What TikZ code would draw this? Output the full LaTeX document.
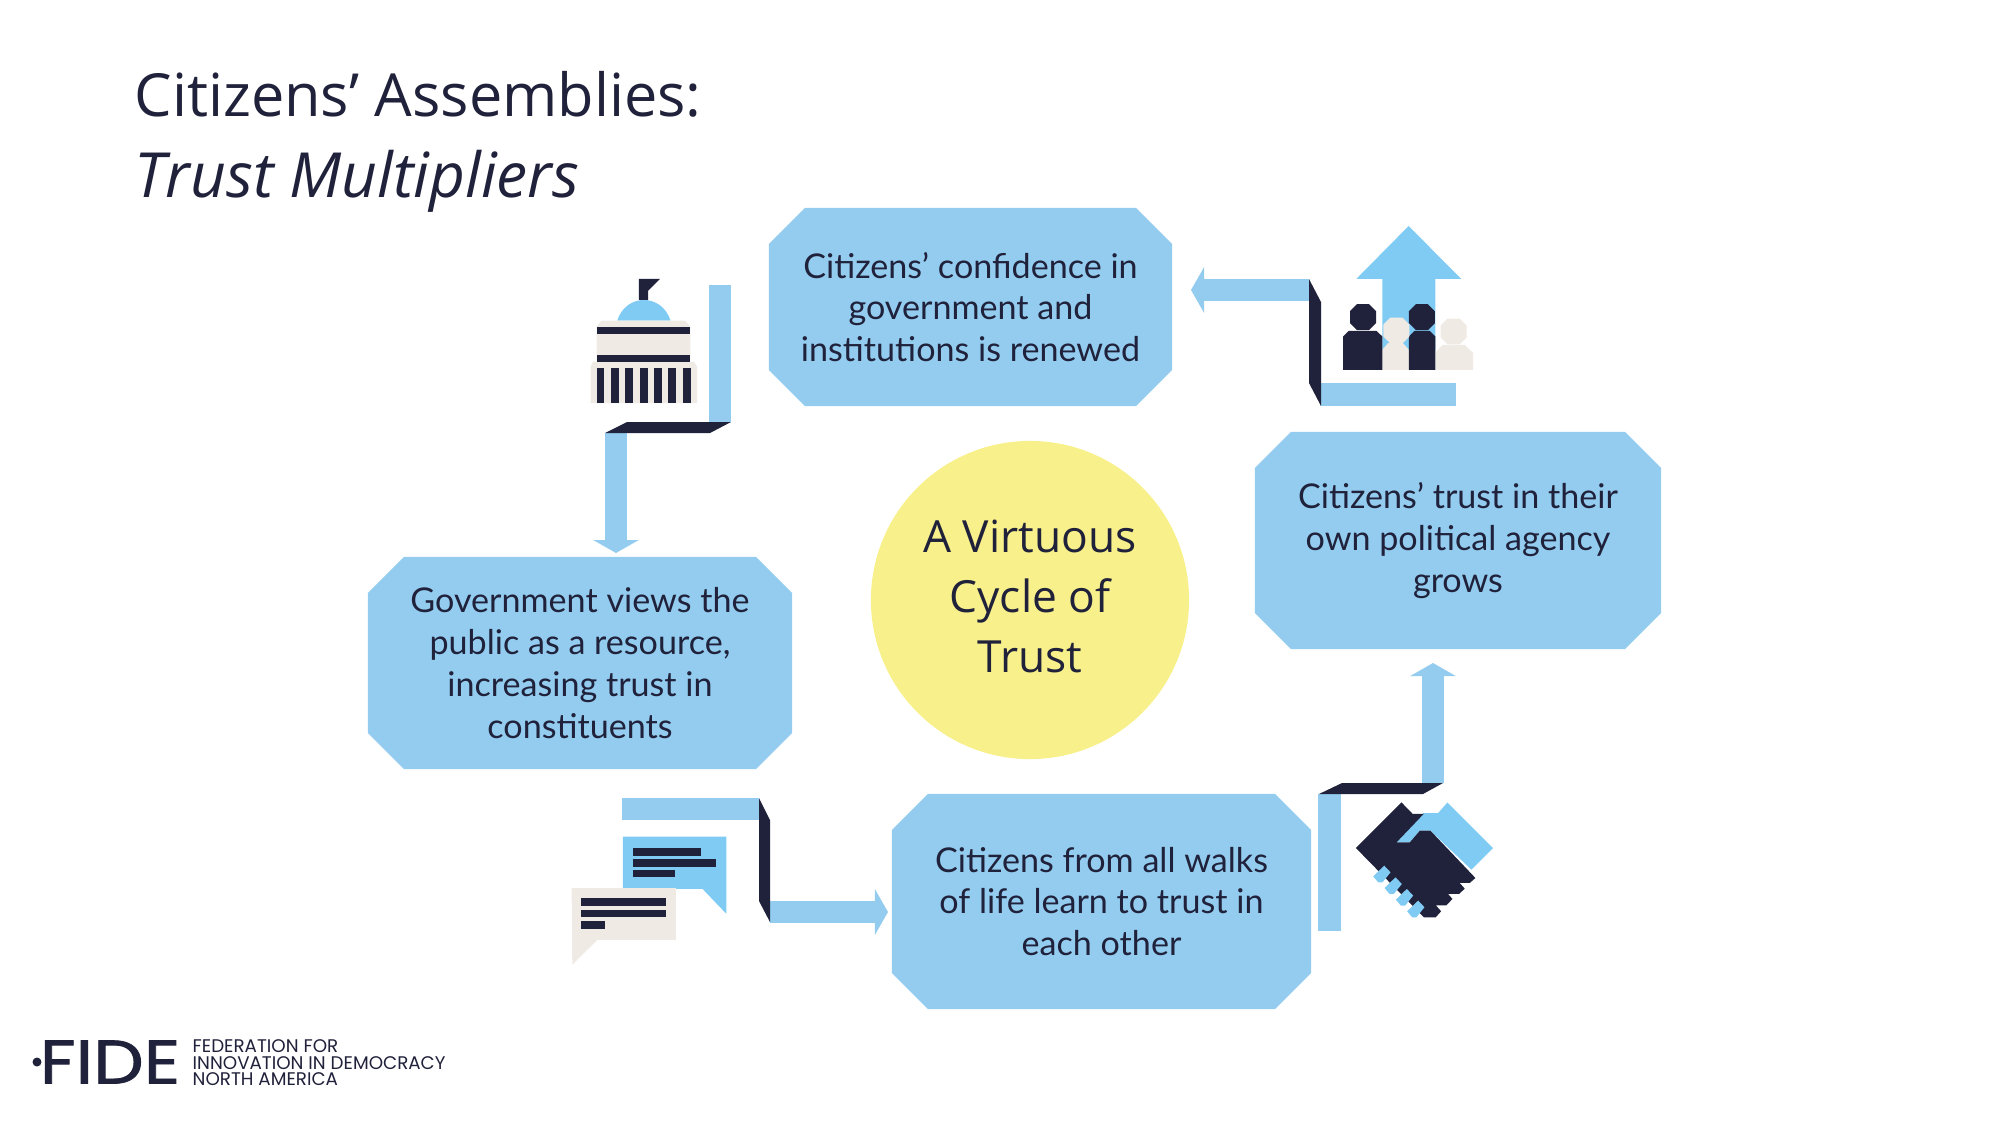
\documentclass[tikz,border=0pt]{standalone}
\usepackage{fontspec}
\setmainfont{Open Sans}
\newfontfamily\boxfont{Lato}
\newfontfamily\logofont{Poppins}
\newfontfamily\logomarkfont[FakeBold=1.2]{Poppins}
\usetikzlibrary{arrows.meta}
\usetikzlibrary{shapes.misc}
\definecolor{ribbonblue}{HTML}{93CCEF}
\definecolor{iconblue}{HTML}{80CBF4}
\definecolor{inkdark}{HTML}{20213A}
\definecolor{cream}{HTML}{EFEBE4}
\definecolor{sunyellow}{HTML}{F8F08A}
\tikzset{
  stepbox/.style={chamfered rectangle,chamfered rectangle xsep=0.18cm,chamfered rectangle ysep=0.18cm,
    fill=ribbonblue,inner sep=0pt,align=center,text=inkdark,
    font=\boxfont\fontsize{9.7}{11.9}\selectfont},
  ribbon/.style={draw=ribbonblue,line width=0.225cm},
  ribbontip/.style={ribbon,-{Triangle[length=1.3mm,width=4.5mm]}},
  fold/.style={fill=inkdark},
  iconunit/.style={x=0.003333cm,y=-0.003333cm},
}
\begin{document}
\begin{tikzpicture}[x=0.01cm,y=-0.01cm]
\useasboundingbox (0,0) rectangle (2002,1123);

% Title
\node (title) at (134,142) [anchor=west,inner sep=0pt,align=left,text=inkdark,font=\fontsize{16.9}{22.9}\selectfont]
  {Citizens’ Assemblies:\\{\fontsize{17.7}{22.9}\selectfont\textit{Trust Multipliers}}};

% Step boxes
\node (topbox) at (970.5,307) [stepbox,minimum width=4.03cm,minimum height=1.98cm]
  {Citizens’ confidence in\\government and\\institutions is renewed};
\node (rightbox) at (1458,540.5) [stepbox,minimum width=4.06cm,minimum height=2.17cm]
  {Citizens’ trust in their\\own political agency\\grows};
\node (leftbox) at (580,663) [stepbox,minimum width=4.24cm,minimum height=2.12cm]
  {Government views the\\public as a resource,\\increasing trust in\\constituents};
\node (bottombox) at (1101.5,901.5) [stepbox,minimum width=4.19cm,minimum height=2.15cm]
  {Citizens from all walks\\of life learn to trust in\\each other};

% Centre circle
\node (centre) at (1030,600) [circle,fill=sunyellow,minimum size=3.18cm,inner sep=0pt,align=center,text=inkdark,
  font=\fontsize{12.6}{17}\selectfont] {\raisebox{2pt}{A Virtuous}\\\raisebox{2pt}{Cycle of}\\\raisebox{2pt}{Trust}};

% Ribbon ends
\coordinate (govtop) at (720,285);
\coordinate (govfold) at (720,422);
\coordinate (govlow) at (616,433);
\coordinate (govtip) at (616,553);
\coordinate (peoplelow) at (1456,394.5);
\coordinate (peoplefold) at (1321,394.5);
\coordinate (peopleup) at (1309,290);
\coordinate (peopletip) at (1191,290);
\coordinate (handlow) at (1329.5,931);
\coordinate (handfold) at (1329.5,794);
\coordinate (handup) at (1433,783);
\coordinate (handtip) at (1433,663);
\coordinate (chatup) at (622,809);
\coordinate (chatfold) at (759,809);
\coordinate (chatlow) at (770,912);
\coordinate (chattip) at (888,912);

% Ribbons
\draw[ribbon] (govtop) -- (govfold);
\draw[ribbontip] (govlow) -- (govtip);
\fill[fold] (627,422) -- (731,422) -- (710,433) -- (605,433) -- cycle;

\draw[ribbon] (peoplelow) -- (peoplefold);
\draw[ribbontip] (peopleup) -- (peopletip);
\fill[fold] (1309,279) -- (1321,302) -- (1321,406) -- (1309,383) -- cycle;

\draw[ribbon] (handlow) -- (handfold);
\draw[ribbontip] (handup) -- (handtip);
\fill[fold] (1342,783) -- (1443,783) -- (1423,794) -- (1319,794) -- cycle;

\draw[ribbon] (chatup) -- (chatfold);
\draw[ribbontip] (chatlow) -- (chattip);
\fill[fold] (759,798) -- (770,820) -- (770,922) -- (759,901) -- cycle;

% Capitol icon
\begin{scope}[shift={(570,260)},iconunit]
\fill[fold] (207,57) -- (270,57) -- (235,92) -- (235,120) -- (207,120) -- cycle;
\fill[iconblue] (142,182) .. controls (155,140) and (190,120) .. (222,120) .. controls (254,120) and (289,140) .. (302,182) -- cycle;
\fill[cream] (95,182) -- (345,182) -- (362,200) -- (362,300) -- (80,300) -- (80,200) -- cycle;
\fill[cream] (62,320) -- (70,305) -- (372,305) -- (382,320) -- (382,430) -- (62,430) -- cycle;
\fill[fold] (80,200) rectangle (362,222);
\fill[fold] (80,285) rectangle (362,305);
\foreach \colx in {80,124,166,211,253,295,339}
  \fill[fold] (\colx,325) rectangle +(23.5,105);
\end{scope}

% People icon
\begin{scope}[shift={(1170,210)},iconunit]
\fill[iconblue] (717,48) -- (875,207) -- (797,207) -- (797,420) -- (638,420) -- (638,207) -- (560,207) -- cycle;
\fill[cream] (638,480) -- (638,420) -- (655,400) -- (700,400) -- (718,420) -- (718,480) -- cycle;
\fill[cream] (800,480) -- (800,425) -- (820,405) -- (885,405) -- (911,430) -- (911,480) -- cycle;
\fill[fold] (520,480) -- (520,380) -- (537,363) -- (620,363) -- (638,380) -- (638,480) -- cycle;
\fill[fold] (718,480) -- (718,380) -- (735,363) -- (780,363) -- (797,380) -- (797,480) -- cycle;
\foreach \headx/\heady/\headcol in {680/362/cream,852/365/cream,580/322/inkdark,757/322/inkdark}
  \fill[\headcol] (\headx-18,\heady-39) -- (\headx+18,\heady-39) -- (\headx+39,\heady-18) -- (\headx+39,\heady+18)
    -- (\headx+18,\heady+39) -- (\headx-18,\heady+39) -- (\headx-39,\heady+18) -- (\headx-39,\heady-18) -- cycle;
\end{scope}

% Handshake icon
\begin{scope}[shift={(1300,650)},iconunit]
\fill[iconblue] (290,578) -- (370,490) -- (415,490) -- (443,458) -- (580,595) -- (515,660) -- (392,543) -- (360,543) -- (330,578) -- cycle;
\fill[fold] (168,595) -- (305,458) -- (338,492) -- (372,492) -- (290,578) -- (330,578) -- (360,543) -- (392,543)
  -- (527,685) -- (510,700) -- (480,700) -- (495,717) -- (478,733) -- (445,733) -- (458,748) -- (440,767)
  -- (408,767) -- (424,785) -- (408,803) -- (372,803) -- cycle;
\foreach \fing in {0,1,2,3}
  \fill[iconblue,shift={(34*\fing,35*\fing)}] (253,648) -- (272,668) -- (248,698) -- (235,698) -- (220,680) -- cycle;
\end{scope}

% Chat icon
\begin{scope}[shift={(550,780)},iconunit]
\fill[iconblue] (219,170) -- (530,170) -- (530,402) -- (458,327) -- (219,327) -- cycle;
\fill[fold] (248,205) rectangle (453,227);
\fill[fold] (248,237) rectangle (500,261);
\fill[fold] (248,269) rectangle (377,291);
\fill[cream] (65,325) -- (378,325) -- (378,480) -- (143,480) -- (67,555) -- cycle;
\fill[fold] (92,356) rectangle (349,378);
\fill[fold] (92,392) rectangle (349,413);
\fill[fold] (92,423) rectangle (166,447);
\end{scope}

% Logo
\fill[fold] (37,1062) circle (4.5);
\node (logomark) at (110,1062) [inner sep=0pt,text=inkdark,xscale=1.16,font=\logomarkfont\fontsize{17.5}{18}\selectfont] {FIDE};
\node (logotext) at (192,1063) [anchor=west,inner sep=0pt,align=left,text=inkdark,font=\logofont\fontsize{5.2}{4.7}\selectfont]
  {FEDERATION FOR\\INNOVATION IN DEMOCRACY\\NORTH AMERICA};
\end{tikzpicture}
\end{document}
